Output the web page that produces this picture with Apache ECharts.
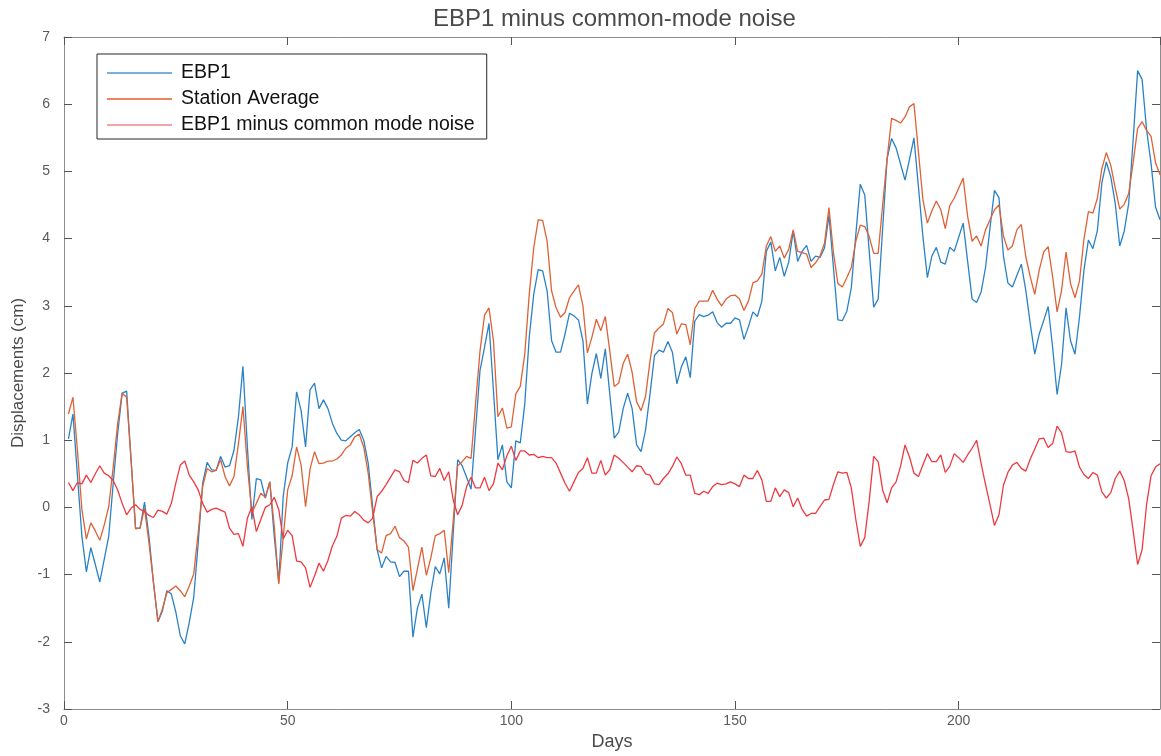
<!DOCTYPE html>
<html>
<head>
<meta charset="utf-8">
<script src="https://cdn.jsdelivr.net/npm/echarts@6/dist/echarts.min.js"></script>
<style>
html,body{margin:0;padding:0;background:#fff;}
#chart{width:1161px;height:756px;}
</style>
</head>
<body>
<div id="chart"></div>
<script>
const titleText = 'EBP1 minus common-mode noise';
const seriesNames = ['EBP1', 'Station Average', 'EBP1 minus common mode noise'];
const xTicks = [0, 50, 100, 150, 200];
const yTicks = [-3, -2, -1, 0, 1, 2, 3, 4, 5, 6, 7];

const ebp1 = [
1.02,1.39,0.48,-0.43,-0.96,-0.60,-0.85,-1.11,-0.77,-0.43,
0.36,1.10,1.70,1.73,0.70,-0.31,-0.31,0.08,-0.43,-1.12,
-1.70,-1.54,-1.24,-1.29,-1.56,-1.91,-2.03,-1.71,-1.34,-0.53,
0.36,0.67,0.56,0.55,0.76,0.60,0.62,0.85,1.35,2.10,
0.90,-0.18,0.43,0.41,0.14,0.38,-0.43,-1.12,0.16,0.66,
0.90,1.72,1.44,0.90,1.75,1.85,1.47,1.60,1.47,1.25,
1.10,1.00,0.99,1.05,1.11,1.16,1.00,0.66,0.01,-0.63,
-0.90,-0.73,-0.81,-0.82,-1.03,-0.95,-0.95,-1.93,-1.50,-1.29,
-1.79,-1.27,-0.88,-0.99,-0.75,-1.50,-0.40,0.71,0.62,0.45,
0.27,1.15,2.04,2.38,2.74,1.74,0.71,0.93,0.38,0.29,
0.99,0.96,1.54,2.53,3.17,3.54,3.52,3.22,2.48,2.31,
2.31,2.58,2.89,2.85,2.79,2.48,1.54,1.99,2.29,1.92,
2.36,1.69,1.03,1.12,1.47,1.70,1.47,0.93,0.83,1.15,
1.69,2.26,2.34,2.31,2.47,2.31,1.84,2.09,2.24,1.93,
2.77,2.87,2.84,2.86,2.91,2.75,2.68,2.74,2.74,2.82,
2.79,2.50,2.69,2.91,2.84,3.07,3.81,3.95,3.52,3.72,
3.44,3.65,4.11,3.66,3.81,3.90,3.66,3.74,3.72,3.86,
4.35,3.57,2.79,2.78,2.92,3.27,4.06,4.81,4.65,3.81,
2.98,3.10,4.15,5.19,5.49,5.35,5.11,4.87,5.18,5.50,
4.77,4.03,3.42,3.74,3.87,3.65,3.62,3.87,3.81,4.02,
4.23,3.66,3.10,3.05,3.20,3.57,4.16,4.72,4.61,3.74,
3.34,3.28,3.45,3.62,3.23,2.73,2.28,2.58,2.78,2.99,
2.38,1.68,2.13,2.97,2.48,2.28,2.83,3.53,3.98,3.85,
4.12,4.83,5.14,4.92,4.52,3.89,4.11,4.52,5.47,6.50,
6.37,5.62,5.12,4.47,4.28
];

const stationAvg = [
1.39,1.64,0.85,-0.03,-0.47,-0.23,-0.35,-0.49,-0.26,0.01,
0.60,1.25,1.70,1.64,0.70,-0.32,-0.31,-0.01,-0.53,-1.12,
-1.70,-1.51,-1.27,-1.22,-1.17,-1.24,-1.33,-1.17,-0.99,-0.38,
0.31,0.58,0.53,0.55,0.71,0.46,0.32,0.46,0.95,1.50,
0.61,-0.08,0.06,0.21,0.15,0.38,-0.28,-1.14,-0.45,0.26,
0.47,0.90,0.63,0.01,0.57,0.83,0.65,0.66,0.69,0.69,
0.72,0.78,0.88,0.93,1.05,1.09,0.90,0.51,-0.08,-0.63,
-0.68,-0.42,-0.39,-0.28,-0.45,-0.50,-0.59,-1.24,-0.92,-0.59,
-1.01,-0.75,-0.42,-0.39,-0.34,-0.97,-0.20,0.62,0.68,0.76,
0.73,1.54,2.33,2.86,2.97,2.48,1.35,1.48,1.18,1.20,
1.69,1.80,2.28,3.17,3.86,4.28,4.27,3.96,3.22,2.97,
2.83,2.90,3.12,3.22,3.31,3.00,2.30,2.53,2.80,2.63,
2.84,2.33,1.80,1.85,2.14,2.28,2.01,1.57,1.44,1.65,
2.18,2.60,2.67,2.73,2.96,2.90,2.58,2.73,2.72,2.42,
2.96,3.07,3.07,3.07,3.23,3.10,3.00,3.10,3.15,3.16,
3.10,2.93,3.07,3.34,3.37,3.47,3.89,4.03,3.81,3.89,
3.71,3.84,4.13,3.81,3.79,3.77,3.57,3.64,3.74,3.93,
4.46,3.79,3.33,3.28,3.42,3.57,3.96,4.20,4.18,4.03,
3.78,3.78,4.50,5.19,5.79,5.76,5.72,5.81,5.96,6.01,
5.29,4.58,4.23,4.41,4.56,4.43,4.15,4.49,4.60,4.75,
4.90,4.33,3.96,4.04,3.89,4.13,4.28,4.43,4.50,4.04,
3.83,3.89,4.13,4.21,3.73,3.43,3.17,3.53,3.80,3.88,
3.43,2.91,3.23,3.80,3.33,3.12,3.37,3.99,4.40,4.38,
4.60,5.04,5.28,5.09,4.75,4.44,4.51,4.67,5.13,5.64,
5.74,5.61,5.52,5.13,4.95
];

const ebp1MinusCMN = [
0.37,0.25,0.37,0.35,0.48,0.37,0.50,0.62,0.51,0.47,
0.40,0.26,0.06,-0.11,-0.01,0.04,-0.03,-0.06,-0.12,-0.15,
-0.04,-0.06,-0.10,0.06,0.36,0.63,0.69,0.48,0.38,0.26,
0.06,-0.07,-0.03,-0.01,-0.04,-0.07,-0.31,-0.40,-0.39,-0.58,
-0.16,0.01,-0.36,-0.18,0.00,0.04,0.15,-0.03,-0.47,-0.34,
-0.42,-0.80,-0.81,-0.90,-1.19,-1.02,-0.83,-0.95,-0.79,-0.57,
-0.43,-0.16,-0.12,-0.13,-0.06,-0.11,-0.19,-0.23,-0.16,0.16,
0.24,0.34,0.45,0.56,0.53,0.40,0.37,0.70,0.66,0.73,
0.78,0.47,0.46,0.58,0.40,0.53,0.11,-0.11,0.03,0.31,
0.45,0.29,0.29,0.45,0.25,0.35,0.66,0.56,0.77,0.91,
0.70,0.84,0.84,0.78,0.79,0.74,0.76,0.74,0.74,0.66,
0.51,0.36,0.24,0.38,0.52,0.58,0.74,0.51,0.51,0.70,
0.48,0.56,0.78,0.73,0.67,0.60,0.53,0.62,0.61,0.50,
0.48,0.35,0.34,0.43,0.50,0.61,0.75,0.65,0.48,0.48,
0.21,0.19,0.24,0.21,0.31,0.36,0.34,0.35,0.38,0.35,
0.31,0.48,0.43,0.43,0.55,0.41,0.09,0.09,0.29,0.16,
0.26,0.22,0.01,0.14,-0.03,-0.13,-0.09,-0.09,0.01,0.11,
0.12,0.34,0.53,0.51,0.52,0.29,-0.18,-0.58,-0.45,0.10,
0.76,0.68,0.26,0.07,0.29,0.38,0.61,0.93,0.75,0.51,
0.46,0.63,0.80,0.68,0.68,0.78,0.52,0.61,0.80,0.74,
0.67,0.78,0.88,1.00,0.66,0.34,0.04,-0.27,-0.11,0.33,
0.52,0.63,0.67,0.58,0.54,0.72,0.87,1.02,1.03,0.89,
0.95,1.21,1.11,0.83,0.82,0.84,0.60,0.49,0.43,0.52,
0.48,0.23,0.14,0.22,0.43,0.54,0.40,0.13,-0.35,-0.85,
-0.63,0.04,0.47,0.60,0.65
];

const FONT = '"Liberation Sans", Arial, Helvetica, sans-serif';
const pairs = arr => arr.map((v, i) => [i + 1, v]);

const axisLineStyle = { color: '#8c8c8c', width: 1 };
const tickStyle = { color: '#555555', width: 1 };

const chart = echarts.init(document.getElementById('chart'), null, { renderer: 'canvas' });
chart.setOption({
  animation: false,
  backgroundColor: '#ffffff',
  title: {
    text: titleText,
    left: 428,
    top: 2,
    textStyle: { fontFamily: FONT, fontSize: 24, fontWeight: 'normal', color: '#4a4a4a' }
  },
  grid: { left: 64, right: 1, top: 37, bottom: 43, containLabel: false },
  legend: {
    orient: 'vertical',
    left: 97,
    top: 54,
    padding: [9, 12, 4, 10],
    itemGap: 6,
    itemWidth: 65,
    itemHeight: 2,
    icon: 'rect',
    backgroundColor: '#ffffff',
    borderColor: '#262626',
    borderWidth: 1,
    borderRadius: 0,
    textStyle: { fontFamily: FONT, fontSize: 19.5, color: '#111111', lineHeight: 20, padding: [0, 0, 0, 4] },
    data: [
      { name: seriesNames[0], itemStyle: { color: '#78b0de' } },
      { name: seriesNames[1], itemStyle: { color: '#ea855f' } },
      { name: seriesNames[2], itemStyle: { color: '#f4a3a8' } }
    ]
  },
  xAxis: [
    {
      type: 'value', min: 0, max: 245, interval: 50, position: 'bottom',
      name: 'Days', nameLocation: 'middle', nameGap: 24,
      nameTextStyle: { fontFamily: FONT, fontSize: 18, color: '#4a4a4a' },
      axisLine: { show: true, onZero: false, lineStyle: axisLineStyle },
      axisTick: { show: true, inside: true, length: 8, lineStyle: tickStyle },
      axisLabel: {
        show: true, fontFamily: FONT, fontSize: 14, color: '#5a5a5a', margin: 5,
        showMaxLabel: false,
        formatter: v => (xTicks.indexOf(v) >= 0 ? String(v) : '')
      },
      splitLine: { show: false }
    },
    {
      type: 'value', min: 0, max: 245, interval: 50, position: 'top',
      axisLine: { show: true, onZero: false, lineStyle: axisLineStyle },
      axisTick: { show: true, inside: true, length: 8, lineStyle: tickStyle },
      axisLabel: { show: false },
      splitLine: { show: false }
    }
  ],
  yAxis: [
    {
      type: 'value', min: -3, max: 7, interval: 1, position: 'left',
      name: 'Displacements (cm)', nameLocation: 'middle', nameGap: 36,
      nameTextStyle: { fontFamily: FONT, fontSize: 17, color: '#4a4a4a' },
      axisLine: { show: true, onZero: false, lineStyle: axisLineStyle },
      axisTick: { show: true, inside: true, length: 8, lineStyle: tickStyle },
      axisLabel: {
        show: true, fontFamily: FONT, fontSize: 14, color: '#5a5a5a', margin: 14,
        formatter: v => (yTicks.indexOf(v) >= 0 ? String(v) : '')
      },
      splitLine: { show: false }
    },
    {
      type: 'value', min: -3, max: 7, interval: 1, position: 'right',
      axisLine: { show: true, onZero: false, lineStyle: axisLineStyle },
      axisTick: { show: true, inside: true, length: 8, lineStyle: tickStyle },
      axisLabel: { show: false },
      splitLine: { show: false }
    }
  ],
  series: [
    {
      name: seriesNames[0], type: 'line', xAxisIndex: 0, yAxisIndex: 0,
      data: pairs(ebp1), showSymbol: false, symbol: 'none',
      lineStyle: { color: '#2a82c6', width: 1.3 }, itemStyle: { color: '#2a82c6' }, z: 2
    },
    {
      name: seriesNames[1], type: 'line', xAxisIndex: 0, yAxisIndex: 0,
      data: pairs(stationAvg), showSymbol: false, symbol: 'none',
      lineStyle: { color: '#dd6236', width: 1.3 }, itemStyle: { color: '#dd6236' }, z: 3
    },
    {
      name: seriesNames[2], type: 'line', xAxisIndex: 0, yAxisIndex: 0,
      data: pairs(ebp1MinusCMN), showSymbol: false, symbol: 'none',
      lineStyle: { color: '#ec3a40', width: 1.3 }, itemStyle: { color: '#ec3a40' }, z: 4
    }
  ]
});
</script>
</body>
</html>
